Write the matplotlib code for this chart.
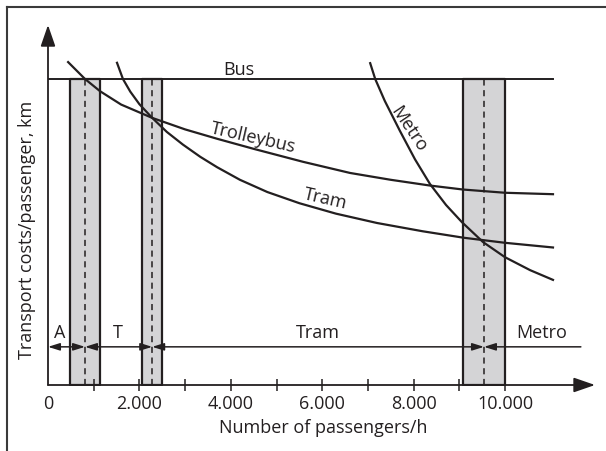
import matplotlib
matplotlib.use('Agg')
import matplotlib.pyplot as plt
from matplotlib.lines import Line2D

plt.rcParams['font.family'] = ['Open Sans', 'DejaVu Sans']
fontsize = 13
ink = '#231f20'

# cost curves (passengers/h, relative cost per passenger-km)
bus_x = [0, 11050]
bus_y = [85, 85]

trolley_x = [440, 810, 1140, 1600, 2280, 3000, 3700, 4500, 5580, 6610, 7500, 8360,
             9080, 10000, 11050]
trolley_y = [89.7, 85.0, 81.6, 77.9, 74.2, 71.0, 68.4, 65.6, 62.0, 58.9, 57.0, 55.4,
             54.3, 53.4, 53.0]

tram_x = [1510, 1640, 1800, 2000, 2280, 2600, 2950, 3330, 3700, 4200, 4800, 5500,
          6300, 7200, 8200, 9100, 10000, 11050]
tram_y = [89.5, 85.0, 81.5, 78.0, 74.2, 70.3, 66.8, 63.4, 60.5, 57.0, 53.6, 50.5,
          47.6, 45.0, 42.7, 40.9, 39.5, 38.2]

metro_x = [7050, 7160, 7370, 7700, 8030, 8360, 8710, 9060, 9520, 10000, 10550, 11050]
metro_y = [89.4, 85.0, 78.9, 70.6, 62.7, 55.8, 50.0, 45.2, 39.7, 35.5, 31.9, 29.2]

# transition zones: (left, break-even, right)
zones = [(480, 810, 1140), (2060, 2280, 2500), (9080, 9540, 10000)]

# ranges along the arrow line
range_edges = [0, 810, 2280, 9540, 11660]
range_labels = ['A', 'T', 'Tram', 'Metro']
range_label_x = [263, 1530, 5910, 10810]

ticks = list(range(0, 11000, 1000))
tick_labels = [f'{t:,}'.replace(',', '.') if t % 2000 == 0 else '' for t in ticks]

fig = plt.figure(figsize=(6.06, 4.51), dpi=100)
ax = fig.add_axes([48 / 606, 66 / 451, 548.4 / 606, 360 / 451])
ax.set_xlim(0, 12000)
ax.set_ylim(0, 100)
for s in ax.spines.values():
    s.set_visible(False)
ax.set_yticks([])
ax.set_xticks(ticks)
ax.set_xticklabels(tick_labels, fontsize=fontsize, color=ink)
ax.tick_params(axis='x', direction='inout', length=8, width=1.1, color=ink, pad=3)
ax.xaxis.get_major_ticks()[0].tick1line.set_visible(False)

# grey zones with dashed break-even line
for lo, mid, hi in zones:
    ax.fill_between([lo, hi], 0, bus_y[0], facecolor='#d4d4d6', edgecolor=ink,
                    linewidth=1.6, zorder=1)
    ax.vlines(mid, 0, bus_y[0], colors=ink, linestyles=(0, (4, 3)), linewidth=1.1, zorder=2)

ax.plot(bus_x, bus_y, color=ink, lw=1.4, zorder=3)
ax.plot(trolley_x, trolley_y, color=ink, lw=1.6, zorder=3)
ax.plot(tram_x, tram_y, color=ink, lw=1.6, zorder=3)
ax.plot(metro_x, metro_y, color=ink, lw=1.6, zorder=3)

# axes as arrows
big = dict(arrowstyle='-|>,head_length=1.3,head_width=0.45', color=ink, lw=1.3,
           shrinkA=0, shrinkB=0, mutation_scale=10)
ax.annotate('', xy=(11970, 0), xytext=(0, 0), arrowprops=big, annotation_clip=False)
ax.annotate('', xy=(0, 100), xytext=(0, 0), arrowprops=big, annotation_clip=False)

# range arrows
line_y = 10.6
for i in range(len(range_labels)):
    style = '<|-|>' if i < len(range_labels) - 1 else '<|-'
    ax.annotate('', xy=(range_edges[i + 1], line_y), xytext=(range_edges[i], line_y),
                arrowprops=dict(arrowstyle=style + ',head_length=0.7,head_width=0.22',
                                color=ink, lw=1.1, shrinkA=0, shrinkB=0,
                                mutation_scale=10),
                annotation_clip=False)
    ax.text(range_label_x[i], 13, range_labels[i], fontsize=fontsize, color=ink,
            ha='center', va='baseline')

# curve labels
ax.text(4180, 86.1, 'Bus', fontsize=fontsize, color=ink, ha='center', va='baseline')
ax.text(4490, 68.6, 'Trolleybus', fontsize=fontsize, color=ink, ha='center', va='center',
        rotation=-13, rotation_mode='anchor')
ax.text(6060, 51.6, 'Tram', fontsize=fontsize, color=ink, ha='center', va='center',
        rotation=-13, rotation_mode='anchor')
ax.text(7900, 71.0, 'Metro', fontsize=fontsize, color=ink, ha='center', va='center',
        rotation=-56, rotation_mode='anchor')

fig.text(323 / 606, 1 - 428 / 451, 'Number of passengers/h', fontsize=fontsize,
         color=ink, ha='center', va='center')
fig.text(27 / 606, 1 - 230 / 451, 'Transport costs/passenger, km', fontsize=fontsize,
         color=ink, ha='center', va='center', rotation=90)

# frame (top and left edges visible)
fig.add_artist(Line2D([7 / 606, 1], [1 - 7 / 451, 1 - 7 / 451], color='#3a3a3a', lw=1.5))
fig.add_artist(Line2D([7 / 606, 7 / 606], [0, 1 - 7 / 451], color='#3a3a3a', lw=1.5))

fig.savefig('out.png', dpi=100, facecolor='white')
